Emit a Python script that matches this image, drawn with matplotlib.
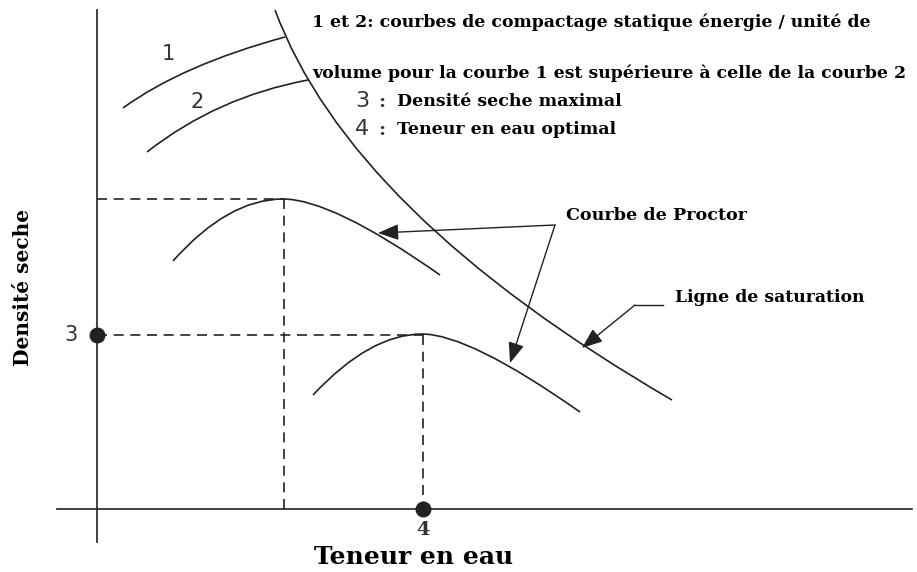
import matplotlib
matplotlib.use('Agg')
import matplotlib.pyplot as plt
from matplotlib.path import Path
from matplotlib.patches import PathPatch

# schematic drawn in picture coordinates (x right, y down)
W, H = 917, 572
INK = '#222222'

# axes of the diagram
y_axis = [(97, 10), (97, 542)]
x_axis = [(57, 509), (912, 509)]

# quadratic bezier control points: start, ctrl, end (, ctrl, end)
curve_1 = [(123, 108), (182, 65), (285, 37)]
curve_2 = [(147, 152), (217, 97), (308, 80)]
saturation = [(275, 10), (350, 213), (672, 400)]
proctor_high = [(173, 261), (228, 199), (283, 199), (332, 199), (440, 275)]
proctor_low = [(313, 395), (370, 334), (422, 334), (469, 334), (580, 412)]

# optimum points
opt_high = (284, 199)
opt_low = (423, 335)

# arrows
proctor_src = (555, 225)
proctor_tips = [(378, 233), (510, 363)]
sat_line = [(663, 305), (635, 305)]
sat_tip = (582, 348)

# texts
notes = [
    (312, 22, "1 et 2: courbes de compactage statique énergie / unité de"),
    (312, 73, "volume pour la courbe 1 est supérieure à celle de la courbe 2"),
]
keys = [
    (355, 101, "3", "Densité seche maximal"),
    (355, 129, "4", "Teneur en eau optimal"),
]

SERIF = 'DejaVu Serif'
SANS = 'DejaVu Sans'


def bezier(ax, pts):
    codes = [Path.MOVETO] + [Path.CURVE3] * (len(pts) - 1)
    ax.add_patch(PathPatch(Path(pts, codes), fc='none', ec=INK, lw=1.2))


fig = plt.figure(figsize=(W / 100, H / 100), dpi=100)
ax = fig.add_axes([0, 0, 1, 1])
ax.set_xlim(0, W)
ax.set_ylim(H, 0)
ax.axis('off')

for line in (y_axis, x_axis):
    xs, ys = zip(*line)
    ax.plot(xs, ys, color=INK, lw=1.2)

for c in (curve_1, curve_2, saturation, proctor_high, proctor_low):
    bezier(ax, c)

# dashed construction lines
dash = dict(color=INK, lw=1.2, ls=(0, (6, 4)))
for ox, oy in (opt_high, opt_low):
    ax.plot([y_axis[0][0], ox], [oy, oy], **dash)
    ax.plot([ox, ox], [oy, x_axis[0][1]], **dash)

ax.scatter([y_axis[0][0], opt_low[0]], [opt_low[1], x_axis[0][1]], s=110,
           color=INK, zorder=5)

ax.text(71, opt_low[1], "3", fontsize=15, family=SANS, color='#333333',
        ha='center', va='center')
ax.text(opt_low[0], 530, "4", fontsize=14, family=SERIF, weight='bold',
        color='#333333', ha='center', va='center')

ax.text(168, 54, "1", fontsize=15, family=SANS, color='#333333',
        ha='center', va='center')
ax.text(197, 102, "2", fontsize=15, family=SANS, color='#333333',
        ha='center', va='center')

ax.text(414, 557, "Teneur en eau", fontsize=18, family=SERIF, weight='bold',
        color='black', ha='center', va='center')
ax.text(23, 287, "Densité seche", fontsize=14.5, family=SERIF, weight='bold',
        color='black', ha='center', va='center', rotation=90)

for x, y, s in notes:
    ax.text(x, y, s, fontsize=12.4, family=SERIF, weight='bold', color='black',
            va='center', ha='left')
for x, y, num, s in keys:
    ax.text(x, y, num, fontsize=16, family=SANS, color='#333333', va='center')
    ax.text(x + 27, y + 1, ":", fontsize=14, family=SERIF, weight='bold',
            color='#333333', va='center', ha='center')
    ax.text(x + 42, y, s, fontsize=12.5, family=SERIF, weight='bold',
            color='black', va='center')

ax.text(566, 215, "Courbe de Proctor", fontsize=12.6, family=SERIF,
        weight='bold', color='black', va='center')
ax.text(675, 297, "Ligne de saturation", fontsize=12.4, family=SERIF,
        weight='bold', color='black', va='center')

arrow = dict(arrowstyle='-|>,head_length=0.9,head_width=0.35', color=INK,
             lw=1.0, shrinkA=0, shrinkB=0, mutation_scale=14)
for tip in proctor_tips:
    ax.annotate('', xy=tip, xytext=proctor_src, arrowprops=arrow)
xs, ys = zip(*sat_line)
ax.plot(xs, ys, color=INK, lw=1.0)
ax.annotate('', xy=sat_tip, xytext=sat_line[1], arrowprops=arrow)

fig.savefig('out.png', dpi=100, facecolor='white')
